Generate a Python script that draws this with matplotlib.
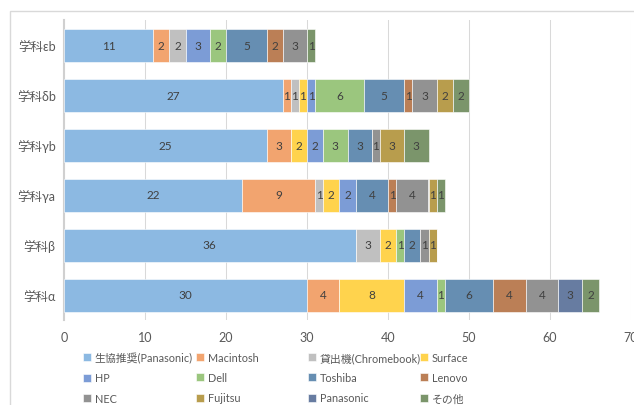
import matplotlib
matplotlib.use("Agg")
import matplotlib.pyplot as plt
import matplotlib.patches as mpatches
import numpy as np

plt.rcParams['font.family'] = ['Lato', 'Noto Sans CJK JP', 'DejaVu Sans']

categories = ["学科α", "学科β", "学科γa", "学科γb", "学科δb", "学科εb"]
series_names = ["生協推奨(Panasonic)", "Macintosh", "貸出機(Chromebook)", "Surface",
                "HP", "Dell", "Toshiba", "Lenovo",
                "NEC", "Fujitsu", "Panasonic", "その他"]
# values per series, ordered as categories (α, β, γa, γb, δb, εb)
seikyo     = [30, 36, 22, 25, 27, 11]
macintosh  = [4, 0, 9, 3, 1, 2]
kashidashi = [0, 3, 1, 0, 1, 2]
surface    = [8, 2, 2, 2, 1, 0]
hp         = [4, 0, 2, 2, 1, 3]
dell       = [1, 1, 0, 3, 6, 2]
toshiba    = [6, 2, 4, 3, 5, 5]
lenovo     = [4, 0, 1, 0, 1, 2]
nec        = [4, 1, 4, 1, 3, 3]
fujitsu    = [0, 1, 1, 3, 2, 0]
panasonic  = [3, 0, 0, 0, 0, 0]
sonota     = [2, 0, 1, 3, 2, 1]
series_values = [seikyo, macintosh, kashidashi, surface, hp, dell, toshiba,
                 lenovo, nec, fujitsu, panasonic, sonota]
xticks = [0, 10, 20, 30, 40, 50, 60, 70]

base_colors = ["#5B9BD5", "#ED7D31", "#A5A5A5", "#FFC000", "#4472C4", "#70AD47",
               "#255E91", "#9E480E", "#636363", "#997300", "#264478", "#43682B"]

def soften(hexc, a=0.7):
    r, g, b = [int(hexc[i:i + 2], 16) / 255 for i in (1, 3, 5)]
    return (a * r + (1 - a), a * g + (1 - a), a * b + (1 - a))

colors = [soften(c) for c in base_colors]

fig = plt.figure(figsize=(6.34, 4.06), dpi=100)
# chart frame
fig.patches.append(mpatches.Rectangle((10 / 634, -0.1), 1.0, 1 - 12 / 406 + 0.1,
                                      transform=fig.transFigure, fill=False,
                                      edgecolor="#D9D9D9", linewidth=1.0))
ax = fig.add_axes([64 / 634, 1 - 321 / 406, (631 - 64) / 634, 300 / 406])

y = np.arange(len(categories))
left = np.zeros(len(categories))
handles = []
for name, vals, col in zip(series_names, series_values, colors):
    vals = np.array(vals, dtype=float)
    bars = ax.barh(y, vals, left=left, height=0.66, color=col, edgecolor="white",
                   linewidth=0.4, label=name, zorder=3)
    handles.append(bars)
    for rect, v in zip(bars, vals):
        if v > 0:
            ax.text(rect.get_x() + rect.get_width() / 2, rect.get_y() + rect.get_height() / 2,
                    f"{int(v)}", ha="center", va="center", fontsize=8.5,
                    color="#404040", zorder=4)
    left += vals

ax.set_xlim(0, 70)
ax.set_ylim(-0.5, len(categories) - 0.5)
ax.set_xticks(xticks)
ax.set_xticklabels([str(t) for t in xticks])
ax.set_yticks(y)
ax.set_yticklabels(categories)
ax.tick_params(axis="both", length=0, labelsize=9, colors="#595959")
ax.tick_params(axis="x", pad=8)
ax.tick_params(axis="y", pad=6)
ax.grid(axis="x", color="#D9D9D9", linewidth=0.75, zorder=0)
for s in ["top", "right", "bottom"]:
    ax.spines[s].set_visible(False)
ax.spines["left"].set_color("#D0D0D0")
ax.spines["left"].set_linewidth(1.5)

# legend: 4 equal-width columns, 3 rows
col_x = [83 / 634, 196 / 634, 308 / 634, 420 / 634]
for j in range(4):
    idx = [j, j + 4, j + 8]
    leg = fig.legend([handles[i] for i in idx], [series_names[i] for i in idx],
                     loc="upper left", bbox_to_anchor=(col_x[j], 1 - 353 / 406),
                     frameon=False, fontsize=7.8, handlelength=0.75, handleheight=0.75,
                     handletextpad=0.35, labelspacing=0.85, borderaxespad=0, borderpad=0)
    for t in leg.get_texts():
        t.set_color("#595959")

fig.savefig("out.png", dpi=100)
